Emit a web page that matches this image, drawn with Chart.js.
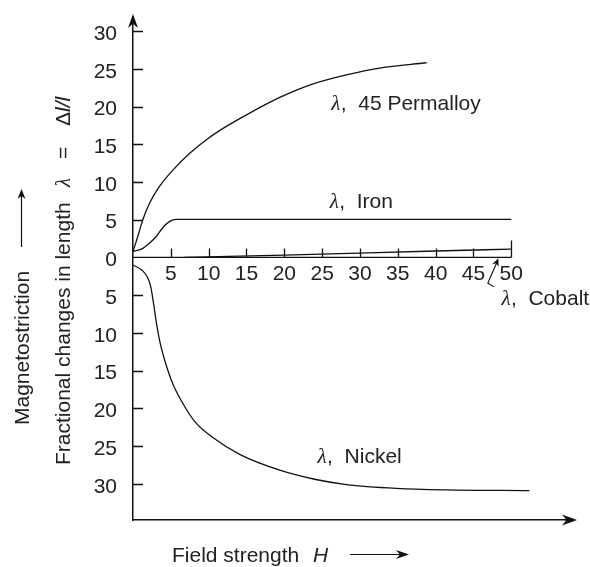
<!DOCTYPE html>
<html>
<head>
<meta charset="utf-8">
<script src="https://cdn.jsdelivr.net/npm/chart.js@4.4.1/dist/chart.umd.min.js"></script>
<style>
  html, body { margin: 0; padding: 0; background: #fff; }
  canvas { display: block; }
</style>
</head>
<body>
<canvas id="chart" width="590" height="567"></canvas>
<script>
// 目盛り
const xTicks = [5, 10, 15, 20, 25, 30, 35, 40, 45, 50];
const yTicks = [-30, -25, -20, -15, -10, -5, 0, 5, 10, 15, 20, 25, 30];

// 曲線データ（H: 磁界の強さ, L: λ）
const permalloyH = [0, 0.64, 1.3, 2.2, 3.5, 5.3, 7.5, 9.7, 11.9, 15, 19.4, 23.8, 28.2, 32.6, 38.8];
const permalloyL = [0.8, 2.8, 5.0, 7.2, 9.4, 11.6, 13.8, 15.6, 17.1, 18.9, 21.2, 23.0, 24.2, 25.1, 25.8];

const ironH = [0, 1.3, 2.2, 3.1, 3.9, 4.8, 5.7, 50];
const ironL = [0.77, 1.2, 1.9, 2.8, 3.9, 4.75, 5.05, 5.05];

const cobaltH = [6.8, 20, 40, 50];
const cobaltL = [0, 0.3, 0.85, 1.1];

const nickelH = [0, 1.2, 1.9, 2.35, 2.7, 3.1, 3.6, 4.3, 5.2, 6.5, 8.2, 10.6, 14.1, 19.4, 24, 28.2, 34.8, 41.4, 52.4];
const nickelL = [-1, -1.7, -2.6, -3.9, -6.0, -8.7, -11.4, -14.0, -16.6, -19.2, -21.8, -23.9, -26.1, -28.2, -29.4, -30.1, -30.6, -30.8, -30.9];

const seriesNames = ['45 Permalloy', 'Iron', 'Cobalt', 'Nickel'];

const PEN = '#111';
const INK = '#222';
const SANS = "'Liberation Sans', Arial, sans-serif";
const SERIF = "'Liberation Serif', 'Times New Roman', serif";

function toPoints(hs, ls) {
  return hs.map((h, i) => ({ x: h, y: ls[i] }));
}

function series(name, hs, ls) {
  return { label: name, data: toPoints(hs, ls) };
}

// 矢じり
function arrowHead(ctx, x, y, angle, len, half) {
  ctx.save();
  ctx.translate(x, y);
  ctx.rotate(angle);
  ctx.beginPath();
  ctx.moveTo(0, 0);
  ctx.lineTo(-len, -half);
  ctx.lineTo(-len * 0.7, 0);
  ctx.lineTo(-len, half);
  ctx.closePath();
  ctx.fillStyle = PEN;
  ctx.fill();
  ctx.restore();
}

// 曲線の名前（λ, 名前）
function lambdaLabel(ctx, x, y, name) {
  ctx.fillStyle = INK;
  ctx.textAlign = 'left';
  ctx.textBaseline = 'alphabetic';
  ctx.font = 'italic 21px ' + SERIF;
  ctx.fillText('λ', x, y);
  ctx.font = '21px ' + SANS;
  ctx.fillText(',', x + 9.5, y);
  ctx.fillText(name, x + 27, y);
}

// ラベルの位置（データ座標）
const labelAt = {
  '45 Permalloy': [26.2, 19.6],
  'Iron': [26.0, 6.5],
  'Cobalt': [48.7, -6.3],
  'Nickel': [24.4, -27.3]
};

const decor = {
  id: 'decor',
  afterDatasetsDraw(chart) {
    const ctx = chart.ctx;
    const x = chart.scales.x;
    const y = chart.scales.y;
    const area = chart.chartArea;
    const y0 = y.getPixelForValue(0);

    ctx.save();
    ctx.strokeStyle = PEN;
    ctx.lineWidth = 1.3;

    // ゼロ線と上向きの目盛り
    ctx.beginPath();
    ctx.moveTo(x.getPixelForValue(0), y0);
    ctx.lineTo(x.getPixelForValue(xTicks[xTicks.length - 1]), y0);
    xTicks.forEach(v => {
      const px = Math.round(x.getPixelForValue(v)) + 0.5;
      ctx.moveTo(px, y0);
      ctx.lineTo(px, y0 - (v === 50 ? 17 : 9));
    });
    ctx.stroke();

    // y軸の内向き目盛り
    ctx.beginPath();
    yTicks.forEach(v => {
      if (v === 0) return;
      const py = Math.round(y.getPixelForValue(v)) + 0.5;
      ctx.moveTo(area.left, py);
      ctx.lineTo(area.left + 10, py);
    });
    ctx.stroke();

    // 軸の矢印
    ctx.lineWidth = 1.5;
    ctx.beginPath();
    ctx.moveTo(area.left, area.top);
    ctx.lineTo(area.left, area.top - 6);
    ctx.moveTo(area.right, area.bottom);
    ctx.lineTo(area.right + 8, area.bottom);
    ctx.stroke();
    arrowHead(ctx, area.left, area.top - 8, -Math.PI / 2, 14, 5);
    arrowHead(ctx, area.right + 12, area.bottom, 0, 15, 5.5);

    // Cobalt の引き出し線
    ctx.lineWidth = 1.1;
    const tip = [x.getPixelForValue(48.3), y.getPixelForValue(-0.1)];
    const knee = [x.getPixelForValue(46.9), y.getPixelForValue(-3.4)];
    const foot = [x.getPixelForValue(47.7), y.getPixelForValue(-3.9)];
    ctx.beginPath();
    ctx.moveTo(foot[0], foot[1]);
    ctx.lineTo(knee[0], knee[1]);
    ctx.lineTo(tip[0] - 1.5, tip[1] + 4);
    ctx.stroke();
    arrowHead(ctx, tip[0], tip[1], Math.atan2(tip[1] - knee[1], tip[0] - knee[0]), 8, 3.5);

    // 曲線の名前
    seriesNames.forEach(n => {
      const p = labelAt[n];
      lambdaLabel(ctx, x.getPixelForValue(p[0]), y.getPixelForValue(p[1]), n);
    });

    // x軸タイトル
    ctx.fillStyle = INK;
    ctx.textAlign = 'left';
    ctx.textBaseline = 'alphabetic';
    ctx.font = '21px ' + SANS;
    ctx.fillText('Field strength', 172, 562);
    ctx.font = 'italic 21px ' + SANS;
    ctx.fillText('H', 313, 562);
    ctx.lineWidth = 1.2;
    ctx.beginPath();
    ctx.moveTo(350, 554.5);
    ctx.lineTo(400, 554.5);
    ctx.stroke();
    arrowHead(ctx, 409, 554.5, 0, 13, 4.5);

    // y軸タイトル（縦書き 2行）
    ctx.save();
    ctx.translate(29, 425);
    ctx.rotate(-Math.PI / 2);
    ctx.font = '21px ' + SANS;
    ctx.fillText('Magnetostriction', 0, 0);
    ctx.restore();
    ctx.beginPath();
    ctx.moveTo(21.5, 247);
    ctx.lineTo(21.5, 196);
    ctx.stroke();
    arrowHead(ctx, 21.5, 189, -Math.PI / 2, 10, 4);

    ctx.save();
    ctx.translate(70, 465);
    ctx.rotate(-Math.PI / 2);
    ctx.font = '21px ' + SANS;
    ctx.fillText('Fractional changes in length', 0, 0);
    ctx.font = 'italic 21px ' + SERIF;
    ctx.fillText('λ', 278, 0);
    ctx.font = '21px ' + SANS;
    ctx.fillText('=', 306, 0);
    ctx.fillText('Δ', 339, 0);
    ctx.font = 'italic 21px ' + SANS;
    ctx.fillText('l/l', 353, 0);
    ctx.restore();

    ctx.restore();
  }
};

const tickFont = { family: SANS, size: 21 };

const chart = new Chart(document.getElementById('chart'), {
  type: 'line',
  data: {
    datasets: seriesNames.map((n, i) => {
      const src = [[permalloyH, permalloyL], [ironH, ironL], [cobaltH, cobaltL], [nickelH, nickelL]][i];
      return series(n, src[0], src[1]);
    })
  },
  options: {
    responsive: false,
    devicePixelRatio: 1,
    animation: false,
    layout: { padding: { left: 0, right: 25, top: 22, bottom: 47 } },
    plugins: { legend: { display: false }, tooltip: { enabled: false } },
    elements: {
      point: { radius: 0 },
      line: { borderWidth: 1.3, borderColor: PEN, cubicInterpolationMode: 'monotone', fill: false }
    },
    scales: {
      x: {
        type: 'linear', min: 0, max: 57.1,
        ticks: { display: false },
        grid: { display: false, drawTicks: false },
        border: { display: true, color: PEN, width: 1.5 },
        afterFit: s => { s.height = 0; s.paddingLeft = 0; s.paddingRight = 0; }
      },
      xz: {
        type: 'linear', axis: 'x', min: 0, max: 57.1,
        position: { y: 0 },
        grid: { display: false, drawTicks: false },
        border: { display: false },
        ticks: { padding: 4, font: tickFont, color: INK, autoSkip: false, maxRotation: 0 },
        afterBuildTicks: s => { s.ticks = xTicks.map(v => ({ value: v })); },
        afterFit: s => { s.paddingLeft = 0; s.paddingRight = 0; }
      },
      y: {
        type: 'linear', min: -34.8, max: 31.2, position: 'left',
        grid: { display: false, drawTicks: false },
        border: { display: true, color: PEN, width: 1.5 },
        ticks: { padding: 16, labelOffset: 3, font: tickFont, color: INK, autoSkip: false, callback: v => Math.abs(v) },
        afterBuildTicks: s => { s.ticks = yTicks.map(v => ({ value: v })); },
        afterFit: s => { s.width = 133; s.paddingTop = 0; s.paddingBottom = 0; }
      }
    }
  },
  plugins: [decor]
});
</script>
</body>
</html>
